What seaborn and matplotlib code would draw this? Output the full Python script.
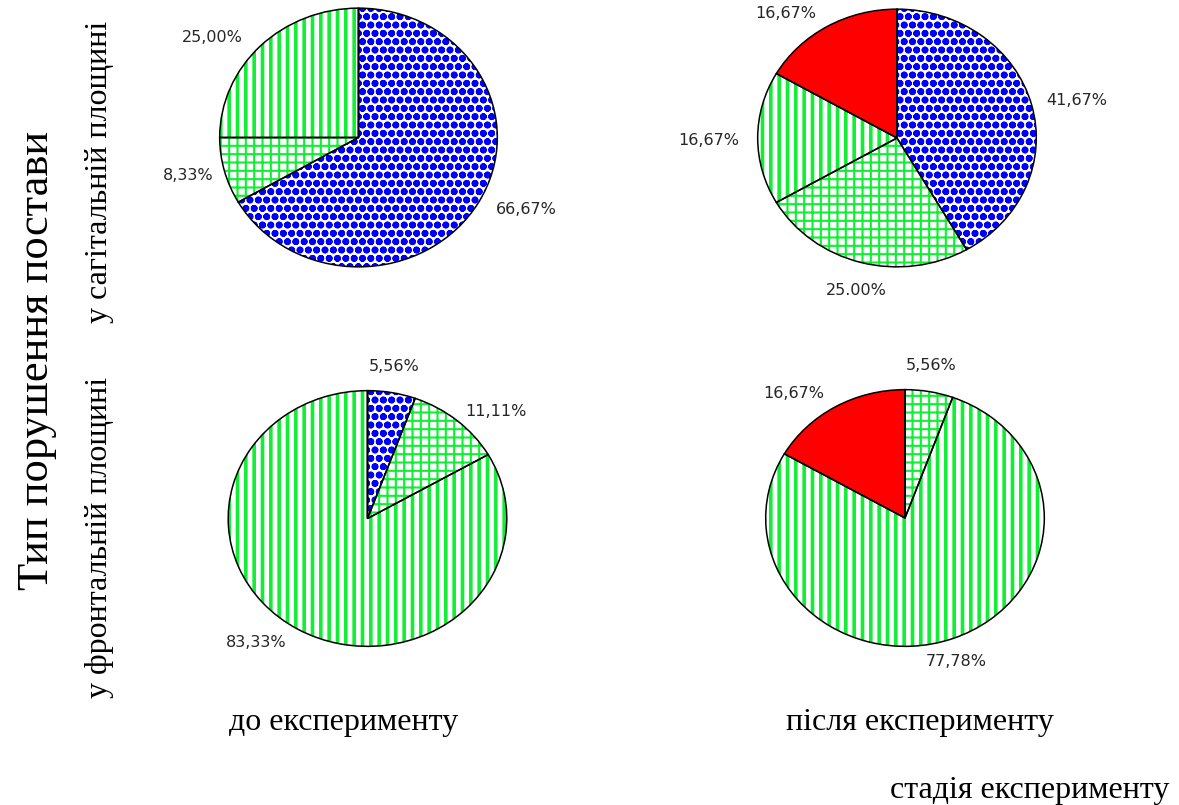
import matplotlib
matplotlib.use("Agg")
import matplotlib.pyplot as plt
import seaborn as sns

sns.set_theme(style="white")
plt.rcParams["font.family"] = ["DejaVu Sans"]
plt.rcParams["hatch.linewidth"] = 2.0

# Posture-disorder types (one wedge style each), in clockwise order from 12 o'clock
types = ["type_1", "type_2", "type_3", "type_4"]
type_colors = ["#0000ff", "#12ee36", "#12ee36", "#ff0000"]
type_hatches = ["oo", "++", "||", None]

# Shares (%) per plane and stage
sagittal_before = [66.67, 8.33, 25.00, 0.0]
sagittal_after = [41.67, 25.00, 16.67, 16.67]
frontal_before = [5.56, 11.11, 83.33, 0.0]
frontal_after = [0.0, 5.56, 77.78, 16.67]

stage_labels = ["до експерименту", "після експерименту"]
plane_labels = ["у сагітальній площині", "у фронтальній площині"]
y_title = "Тип порушення постави"
x_title = "стадія експерименту"

W, H = 1179, 805
fig = plt.figure(figsize=(W / 100, H / 100), dpi=100)
fig.patch.set_facecolor("white")


def px_axes(cx, cy, w, h):
    return fig.add_axes([(cx - w / 2) / W, 1 - (cy + h / 2) / H, w / W, h / H])


# pie boxes in pixels: centre x, centre y, width, height
layout = {
    "sb": (358.5, 137.5, 279, 260),
    "sa": (897.0, 138.0, 280, 259),
    "fb": (367.5, 518.5, 280, 257),
    "fa": (905.0, 518.0, 280, 258),
}
# percent-label anchors in pie units, one per wedge (None = no label)
label_xy = {
    "sb": [(1.21, -0.56), (-1.23, -0.29), (-1.05, 0.77), None],
    "sa": [(1.29, 0.29), (-0.29, -1.18), (-1.35, -0.02), (-0.80, 0.97)],
    "fb": [(0.19, 1.19), (0.92, 0.84), (-0.80, -0.97), None],
    "fa": [None, (0.19, 1.19), (0.37, -1.12), (-0.80, 0.97)],
}
decimal_sep = {"sa": {1: "."}}
hatch_widths = {"oo": 2.5, "++": 1.5, "||": 2.6}

charts = {
    "sb": sagittal_before,
    "sa": sagittal_after,
    "fb": frontal_before,
    "fa": frontal_after,
}

for key, values in charts.items():
    ax = px_axes(*layout[key])
    # fill / hatch layer
    wedges, _ = ax.pie(values, startangle=90, counterclock=False, radius=1,
                       wedgeprops=dict(linewidth=0))
    for w, col, hat in zip(wedges, type_colors, type_hatches):
        if hat is None:
            w.set_facecolor(col)
            w.set_edgecolor(col)
        else:
            w.set_facecolor("white")
            w.set_edgecolor(col)
            w.set_hatch(hat)
            if hasattr(w, "set_hatch_linewidth"):
                w.set_hatch_linewidth(hatch_widths[hat])
    # outline layer
    ax.pie(values, startangle=90, counterclock=False, radius=1,
           wedgeprops=dict(facecolor="none", edgecolor="black", linewidth=1.1))
    ax.set_aspect("auto")
    ax.set_xlim(-1.005, 1.005)
    ax.set_ylim(-1.005, 1.005)
    ax.axis("off")
    for i, (v, pos) in enumerate(zip(values, label_xy[key])):
        if pos is None or v == 0:
            continue
        sep = decimal_sep.get(key, {}).get(i, ",")
        txt = f"{v:.2f}%".replace(".", sep)
        ax.text(pos[0], pos[1], txt, ha="center", va="center", fontsize=11.5,
                color="#262626", clip_on=False)

serif = ["Liberation Serif", "DejaVu Serif"]
fig.text(344 / W, 1 - 722 / H, stage_labels[0], ha="center", va="center",
         fontsize=23, family=serif, color="black")
fig.text(920 / W, 1 - 722 / H, stage_labels[1], ha="center", va="center",
         fontsize=23, family=serif, color="black")
fig.text(1030 / W, 1 - 790 / H, x_title, ha="center", va="center",
         fontsize=23, family=serif, color="black")
fig.text(100 / W, 1 - 172 / H, plane_labels[0], ha="center", va="center",
         rotation=90, fontsize=23, family=serif, color="black")
fig.text(100 / W, 1 - 537 / H, plane_labels[1], ha="center", va="center",
         rotation=90, fontsize=23, family=serif, color="black")
fig.text(37 / W, 1 - 360 / H, y_title, ha="center", va="center",
         rotation=90, fontsize=32, family=serif, color="black")

fig.savefig("out.png", dpi=100, facecolor="white")
